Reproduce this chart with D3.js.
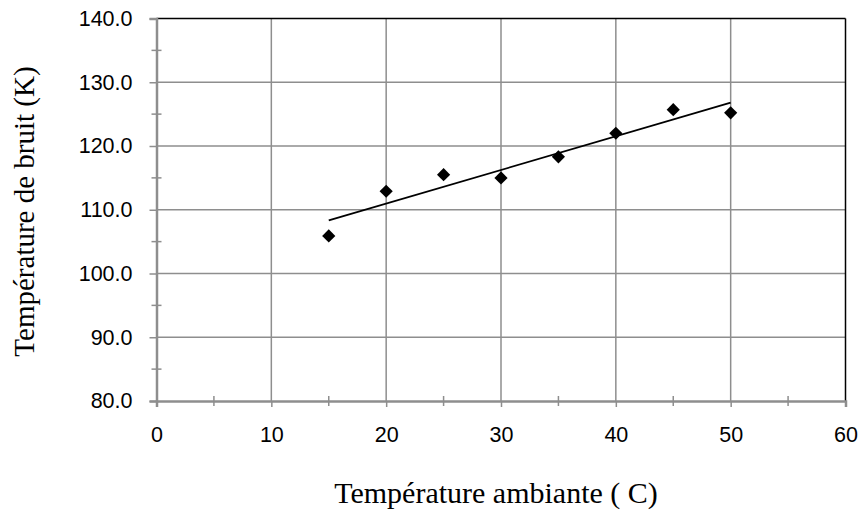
<!DOCTYPE html>
<html><head><meta charset="utf-8">
<script src="https://cdn.jsdelivr.net/npm/d3@7"></script>
<style>body{margin:0;background:#fff}</style>
</head><body>
<svg id="c" width="861" height="510"></svg>
<script>
const temps = [15, 20, 25, 30, 35, 40, 45, 50];
const noise = [105.9, 112.9, 115.5, 115.0, 118.3, 122.0, 125.7, 125.2];
const xTicks = [0, 10, 20, 30, 40, 50, 60];
const yTicks = [80, 90, 100, 110, 120, 130, 140];
const xTitle = "Température ambiante ( C)";
const yTitle = "Température de bruit (K)";

const svg = d3.select("#c");
const L = 156.5, R = 845.5, T = 18.5, B = 401;
const x = d3.scaleLinear().domain([0, 60]).range([L, R]);
const y = d3.scaleLinear().domain([80, 140]).range([B, T]);
const grid = "#8e8e8e";
const sans = "Liberation Sans, Arial, sans-serif";
const serif = "Liberation Serif, Times New Roman, serif";

// gridlines
svg.append("g").selectAll("line").data(xTicks.slice(1, -1)).join("line")
  .attr("x1", d => x(d)).attr("x2", d => x(d)).attr("y1", T).attr("y2", B)
  .attr("stroke", grid).attr("stroke-width", 1.5);
svg.append("g").selectAll("line").data(yTicks.slice(1, -1)).join("line")
  .attr("x1", L).attr("x2", R).attr("y1", d => y(d)).attr("y2", d => y(d))
  .attr("stroke", grid).attr("stroke-width", 1.5);

// top/right border
svg.append("line").attr("x1", L).attr("x2", R).attr("y1", T).attr("y2", T).attr("stroke", "#000").attr("stroke-width", 1.5);
svg.append("line").attr("x1", R).attr("x2", R).attr("y1", T).attr("y2", B).attr("stroke", "#000").attr("stroke-width", 1.5);

// y axis
const yAxis = d3.axisLeft(y).tickValues(yTicks).tickFormat(d3.format(".1f")).tickSize(7).tickPadding(17);
const ya = svg.append("g").attr("transform", `translate(${L},0)`).call(yAxis);
ya.select(".domain").attr("stroke", grid).attr("stroke-width", 2.5);
ya.selectAll(".tick line").attr("stroke", grid).attr("stroke-width", 1.5);
ya.selectAll("text").attr("font-family", sans).attr("font-size", 21.5).attr("fill", "#000");
const yMinor = d3.range(85, 140, 10);
svg.append("g").selectAll("line").data(yMinor).join("line")
  .attr("x1", L - 5).attr("x2", L + 5).attr("y1", d => y(d)).attr("y2", d => y(d))
  .attr("stroke", grid).attr("stroke-width", 1.5);

// x axis
const xAxis = d3.axisBottom(x).tickValues(xTicks).tickFormat(d3.format("d")).tickSize(6).tickPadding(20);
const xa = svg.append("g").attr("transform", `translate(0,${B})`).call(xAxis);
xa.select(".domain").attr("stroke", grid).attr("stroke-width", 2.5);
xa.selectAll(".tick line").attr("stroke", grid).attr("stroke-width", 1.5);
xa.selectAll("text").attr("font-family", sans).attr("font-size", 21.5).attr("fill", "#000");
const xMinor = d3.range(5, 60, 10);
svg.append("g").selectAll("line").data(xMinor).join("line")
  .attr("x1", d => x(d)).attr("x2", d => x(d)).attr("y1", B - 5).attr("y2", B + 5)
  .attr("stroke", grid).attr("stroke-width", 1.5);

// linear trendline (least squares fit of the data)
const mx = d3.mean(temps), my = d3.mean(noise);
const slope = d3.sum(temps, (t, i) => (t - mx) * (noise[i] - my)) / d3.sum(temps, t => (t - mx) ** 2);
const icpt = my - slope * mx;
const ends = [d3.min(temps), d3.max(temps)];
svg.append("path")
  .attr("d", d3.line().x(d => x(d)).y(d => y(icpt + slope * d))(ends))
  .attr("stroke", "#000").attr("stroke-width", 1.8).attr("fill", "none");

// diamonds
const s = 6.6;
svg.append("g").selectAll("path").data(temps).join("path")
  .attr("transform", (d, i) => `translate(${x(d)},${y(noise[i])})`)
  .attr("d", `M0,${-s}L${s},0L0,${s}L${-s},0Z`)
  .attr("fill", "#000");

// titles
svg.append("text").attr("x", 496).attr("y", 503).attr("text-anchor", "middle")
  .attr("font-family", serif).attr("font-size", 30).text(xTitle);
svg.append("text").attr("transform", `translate(34,211.5) rotate(-90)`).attr("text-anchor", "middle")
  .attr("font-family", serif).attr("font-size", 29).text(yTitle);
</script>
</body></html>
